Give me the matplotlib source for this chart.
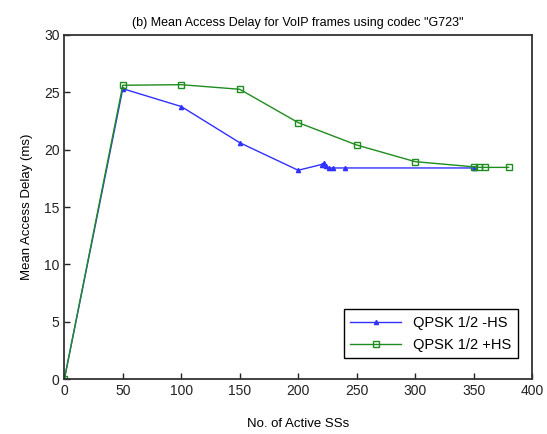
import matplotlib
matplotlib.use("Agg")
import matplotlib.pyplot as plt

plt.rcParams['font.family'] = ['Liberation Sans', 'DejaVu Sans']

# number of active SSs and mean access delay (ms)
ss_no_hs = [0, 50, 100, 150, 200, 220, 222, 224, 226, 230, 240, 350]
delay_no_hs = [0, 25.3, 23.75, 20.6, 18.2, 18.7, 18.85, 18.6, 18.4, 18.4, 18.4, 18.4]

ss_hs = [0, 50, 100, 150, 200, 250, 300, 350, 355, 360, 380]
delay_hs = [0, 25.6, 25.65, 25.25, 22.35, 20.4, 18.95, 18.5, 18.45, 18.45, 18.45]

labels = ['QPSK 1/2 -HS', 'QPSK 1/2 +HS']
x_ticks = list(range(0, 401, 50))
y_ticks = list(range(0, 31, 5))

fig = plt.figure(figsize=(5.47, 4.34), dpi=100)
ax = fig.add_axes([0.1176, 0.126, 0.855, 0.794])

ax.plot(ss_no_hs, delay_no_hs, '-^', color='#3030ff', lw=1.0, ms=3,
        label=labels[0])
ax.plot(ss_hs, delay_hs, '-s', color='#1e8c1e', lw=1.0, ms=4,
        mfc='none', mew=1.0, label=labels[1])

ax.set_xlim(0, 400)
ax.set_ylim(0, 30)
ax.set_xticks(x_ticks)
ax.set_yticks(y_ticks)
ax.tick_params(direction='in', length=4, width=1, labelsize=10, colors='#222222')
for sp in ax.spines.values():
    sp.set_linewidth(1.3)
    sp.set_color('#333333')

ax.set_title('(b) Mean Access Delay for VoIP frames using codec "G723"',
             fontsize=9, pad=6)
ax.set_xlabel('No. of Active SSs', fontsize=9.5, labelpad=14)
ax.set_ylabel('Mean Access Delay (ms)', fontsize=9.5, labelpad=8)

leg = ax.legend(loc='lower right', bbox_to_anchor=(0.985, 0.04), fontsize=10.5,
                fancybox=False, framealpha=1, edgecolor='black',
                handlelength=3.5, borderpad=0.45, labelspacing=0.55)
leg.get_frame().set_linewidth(1.0)

fig.savefig('out.png', dpi=100)
